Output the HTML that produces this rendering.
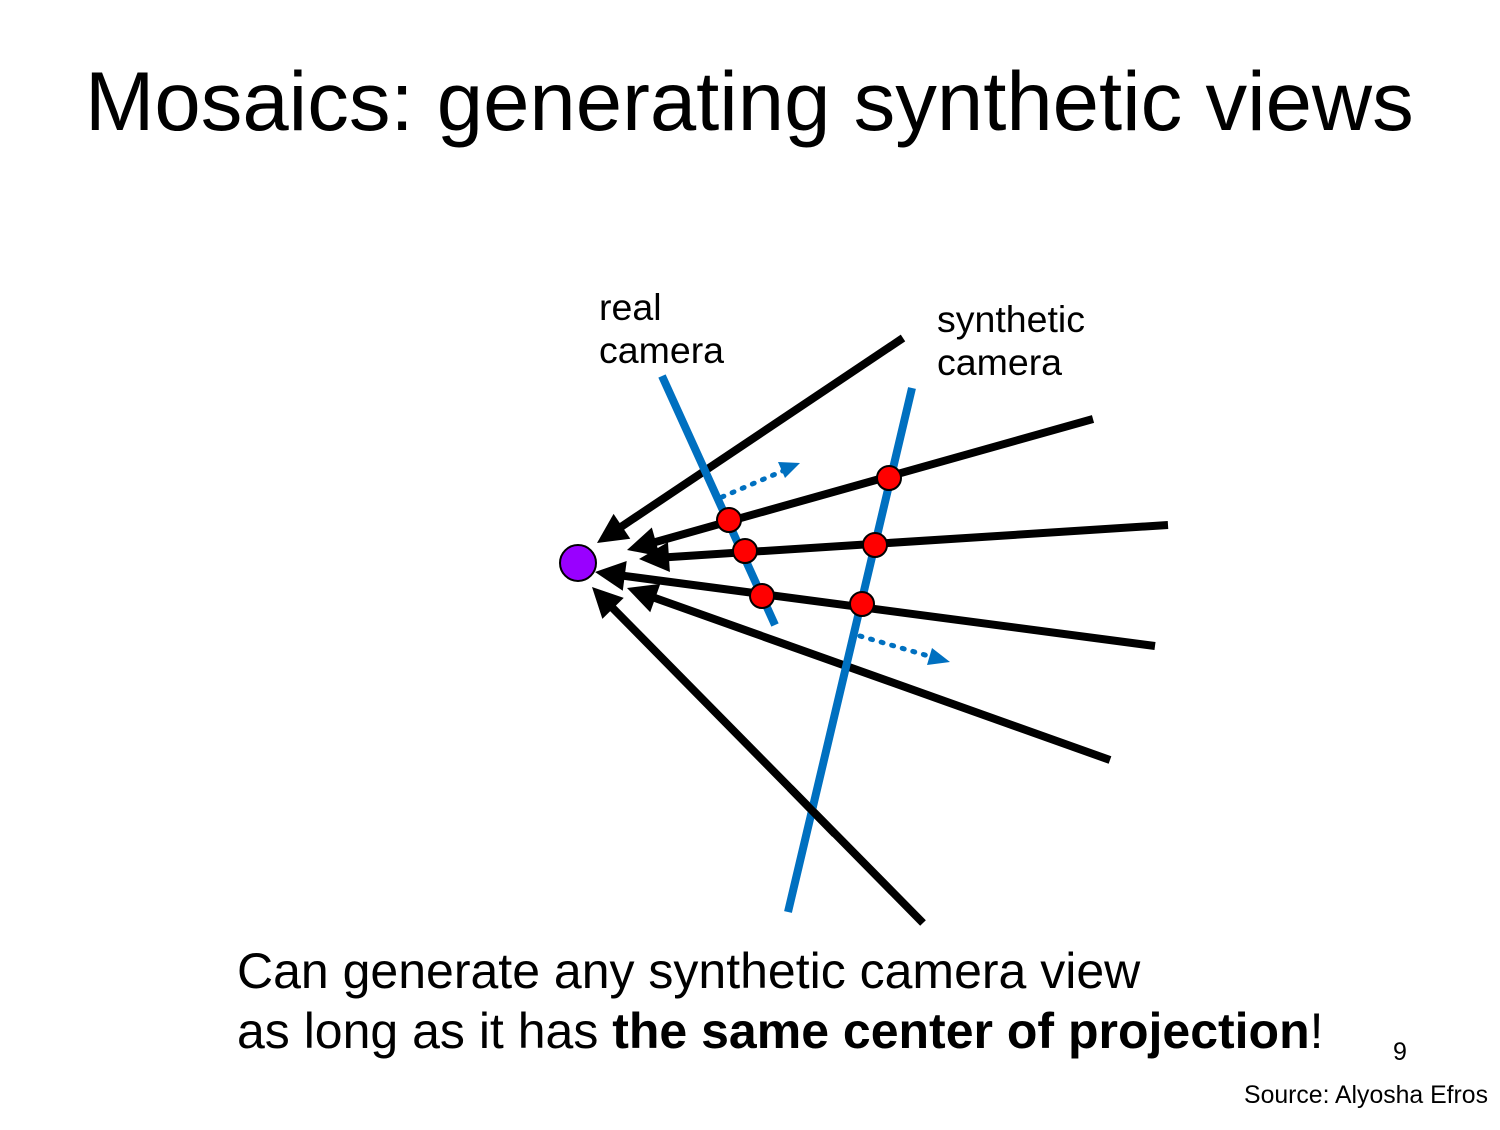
<!DOCTYPE html>
<html><head><meta charset="utf-8"><style>
html,body{margin:0;padding:0;background:#fff;}
body{width:1500px;height:1125px;position:relative;overflow:hidden;font-family:"Liberation Sans",sans-serif;}
</style></head><body>
<svg width="1500" height="1125" viewBox="0 0 1500 1125" xmlns="http://www.w3.org/2000/svg">
<text x="85" y="130" font-size="83.3" font-family="Liberation Sans, sans-serif">Mosaics: generating synthetic views</text>
<g font-size="37.5" font-family="Liberation Sans, sans-serif">
<text x="599" y="320"><tspan x="599">real</tspan><tspan x="599" dy="43">camera</tspan></text>
<text x="937" y="332"><tspan x="937">synthetic</tspan><tspan x="937" dy="43">camera</tspan></text>
</g>
<g id="rays"></g>
<line x1="662" y1="376" x2="775" y2="625" stroke="#0070c0" stroke-width="8"/>
<line x1="912" y1="388" x2="788" y2="912" stroke="#0070c0" stroke-width="8"/>
<line x1="790" y1="788" x2="835" y2="834" stroke="#000" stroke-width="8"/>
<g stroke="#0070c0" stroke-width="5" stroke-dasharray="2 9" stroke-linecap="round" fill="none">
<line x1="722" y1="497" x2="785" y2="470"/>
<line x1="860" y1="636" x2="932" y2="657"/>
</g>
<polygon points="800,463 778,462 785,478" fill="#0070c0"/>
<polygon points="950,662 932,648 927,665" fill="#0070c0"/>
<g id="dots" stroke="#000" stroke-width="2" fill="#ff0000">
<circle cx="729" cy="520" r="12"/>
<circle cx="745" cy="551" r="12"/>
<circle cx="762" cy="596" r="12"/>
<circle cx="889" cy="478" r="12"/>
<circle cx="875" cy="545" r="12"/>
<circle cx="862" cy="604" r="12"/>
</g>
<circle cx="578" cy="563" r="18" fill="#9900ff" stroke="#000" stroke-width="2"/>
<g font-size="50" font-family="Liberation Sans, sans-serif">
<text x="237" y="988">Can generate any synthetic camera view</text>
<text x="237" y="1048">as long as it has <tspan font-weight="bold">the same center of projection</tspan>!</text>
</g>
<text x="1393" y="1060" font-size="25">9</text>
<text x="1488" y="1103" font-size="24.8" text-anchor="end">Source: Alyosha Efros</text>
</svg>
<script>
const rayStarts=[[903,338],[1093,419],[1168,525],[1155,646],[1110,760],[923,923]];
const rayTips=[[597,543],[627,550],[639,559],[595,572],[627,588],[592,587]];
const g=document.getElementById('rays');
const NS='http://www.w3.org/2000/svg';
rayStarts.forEach((s,i)=>{
  const t=rayTips[i];
  const dx=t[0]-s[0],dy=t[1]-s[1],L=Math.hypot(dx,dy),ux=dx/L,uy=dy/L;
  const hl=30,hw=15;
  const bx=t[0]-ux*hl,by=t[1]-uy*hl;
  const ln=document.createElementNS(NS,'line');
  ln.setAttribute('x1',s[0]);ln.setAttribute('y1',s[1]);
  ln.setAttribute('x2',bx+ux*4);ln.setAttribute('y2',by+uy*4);
  ln.setAttribute('stroke','#000');ln.setAttribute('stroke-width','8');
  
  
  g.appendChild(ln);
  const p=document.createElementNS(NS,'polygon');
  p.setAttribute('points',`${t[0]},${t[1]} ${bx-uy*hw},${by+ux*hw} ${bx+uy*hw},${by-ux*hw}`);
  p.setAttribute('fill','#000');
  
  
  g.appendChild(p);
});
</script>
</body></html>
